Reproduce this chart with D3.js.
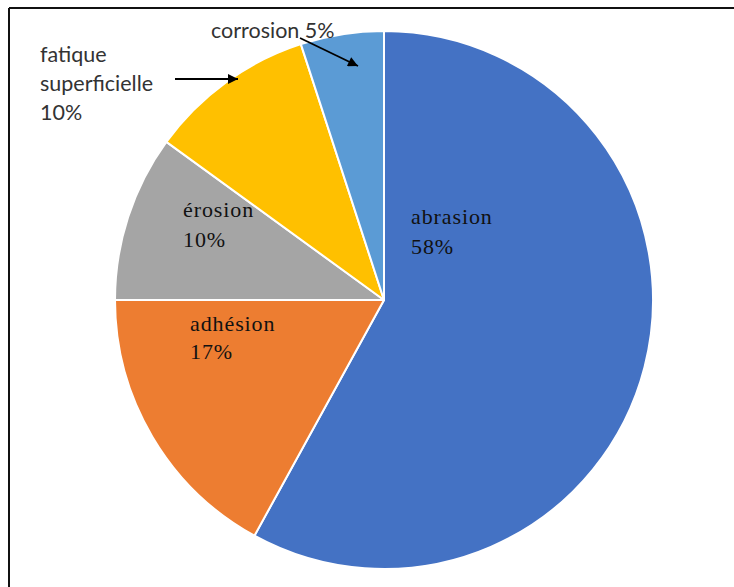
<!DOCTYPE html>
<html>
<head>
<meta charset="utf-8">
<script src="https://cdn.jsdelivr.net/npm/d3@7"></script>
<style>
    body { margin: 0; background: #fff; }
    svg { display: block; }
</style>
</head>
<body>
<svg width="734" height="587"></svg>
<script>
const categories = ["abrasion", "adhésion", "érosion", "fatique superficielle", "corrosion"];
const values = [58, 17, 10, 10, 5];
const colors = ["#4472C4", "#ED7D31", "#A5A5A5", "#FFC000", "#5B9BD5"];
const labelLines = [
    ["abrasion", "58%"],
    ["adhésion", "17%"],
    ["érosion", "10%"],
    ["fatique", "superficielle", "10%"],
    ["corrosion 5%"]
];

window.addEventListener('load', () => {
    const svg = d3.select("svg"),
        cx = 384, cy = 300, radius = 269;

    // frame (only top and left edge visible)
    svg.append("line").attr("x1", 9).attr("y1", 8).attr("x2", 734).attr("y2", 8)
        .attr("stroke", "#111").attr("stroke-width", 2);
    svg.append("line").attr("x1", 9).attr("y1", 8).attr("x2", 9).attr("y2", 587)
        .attr("stroke", "#111").attr("stroke-width", 2);

    const pie = d3.pie().sort(null).value(d => d)(values);
    const arc = d3.arc().innerRadius(0).outerRadius(radius);

    const g = svg.append("g").attr("transform", `translate(${cx},${cy})`);
    g.selectAll("path.slice")
        .data(pie)
        .enter().append("path")
        .attr("class", "slice")
        .attr("d", arc)
        .attr("fill", (d, i) => colors[i])
        .attr("stroke", "#fff")
        .attr("stroke-width", 2)
        .attr("stroke-linejoin", "round");

    // labels inside slices (serif), outside ones (sans)
    const labelPos = [
        { x: 411, y: 224, dy: 30, font: "serif" },
        { x: 190, y: 331, dy: 28, font: "serif" },
        { x: 183, y: 217, dy: 30, font: "serif" },
        { x: 40, y: 62, dy: 29, font: "sans" },
        { x: 211, y: 38, dy: 0, font: "sans" }
    ];

    labelLines.forEach((lines, i) => {
        const p = labelPos[i];
        const serif = p.font === "serif";
        const t = svg.append("text")
            .attr("x", p.x)
            .attr("y", p.y)
            .attr("fill", serif ? "#111" : "#333")
            .style("font-family", serif ? "'Liberation Serif', 'DejaVu Serif', serif" : "Lato, 'Liberation Sans', sans-serif")
            .style("font-size", serif ? "22px" : "21.5px")
            .style("letter-spacing", serif ? "0.9px" : "0px");
        lines.forEach((l, j) => {
            t.append("tspan").attr("x", p.x).attr("y", p.y + j * p.dy).text(l);
        });
    });

    // arrows
    const defs = svg.append("defs");
    defs.append("marker")
        .attr("id", "head")
        .attr("viewBox", "0 0 10 10")
        .attr("refX", 10).attr("refY", 5)
        .attr("markerWidth", 13).attr("markerHeight", 10)
        .attr("markerUnits", "userSpaceOnUse")
        .attr("orient", "auto")
        .append("path")
        .attr("d", "M0,0 L10,5 L0,10 Z")
        .attr("fill", "#000");

    const arrows = [
        [[175, 79], [238, 79]],
        [[300, 38], [358, 66]]
    ];
    svg.selectAll("line.arrow")
        .data(arrows)
        .enter().append("line")
        .attr("class", "arrow")
        .attr("x1", d => d[0][0]).attr("y1", d => d[0][1])
        .attr("x2", d => d[1][0]).attr("y2", d => d[1][1])
        .attr("stroke", "#000")
        .attr("stroke-width", 1.8)
        .attr("marker-end", "url(#head)");
});
</script>
</body>
</html>
